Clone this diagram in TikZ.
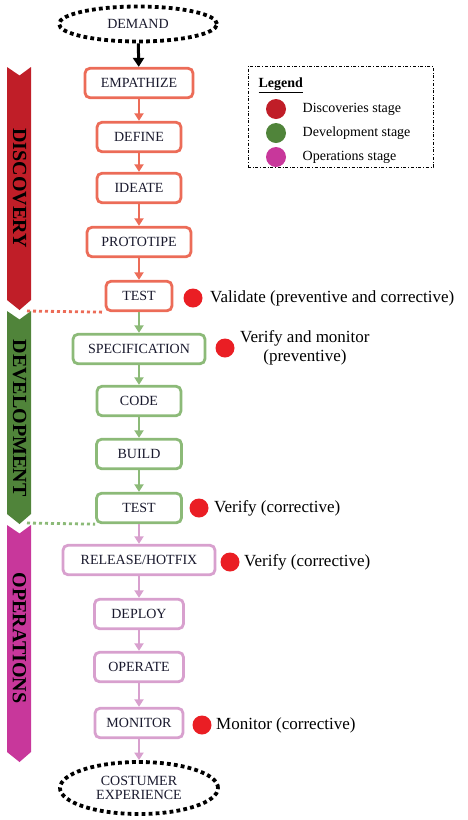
\documentclass[tikz,border=0pt]{standalone}
\usepackage{fontspec}
\setmainfont{Liberation Serif}
\usetikzlibrary{shapes.geometric, arrows.meta, positioning}
\definecolor{discline}{RGB}{236,108,88}
\definecolor{devline}{RGB}{140,186,120}
\definecolor{opsline}{RGB}{216,160,206}
\definecolor{discbar}{RGB}{192,30,40}
\definecolor{devbar}{RGB}{80,132,58}
\definecolor{opsbar}{RGB}{200,55,155}
\definecolor{dotred}{RGB}{234,30,36}
\definecolor{boxtext}{RGB}{25,25,45}

\begin{document}
\begin{tikzpicture}[x=1pt, y=-1pt, font=\fontsize{14}{16}\selectfont,
    stagebox/.style={draw, rounded corners=5pt, line width=2.8pt, fill=white,
        minimum height=29.5pt, inner xsep=10pt, text=boxtext},
    discbox/.style={stagebox, draw=discline},
    devbox/.style={stagebox, draw=devline},
    opsbox/.style={stagebox, draw=opsline},
    endpoint/.style={ellipse, draw, line width=3.8pt, dash pattern=on 3.8pt off 3.2pt,
        minimum width=158pt, minimum height=35pt, inner sep=1pt, align=center, text=boxtext},
    flow/.style={line width=2.3pt, -{Triangle[width=9pt,length=7.5pt]}},
    linkdots/.style={line width=2.8pt, dash pattern=on 3pt off 3pt},
    notedot/.style={circle, fill=dotred, minimum size=19pt, inner sep=0pt},
    note/.style={font=\fontsize{17}{19}\selectfont, align=center},
    legdot/.style={circle, minimum size=20pt, inner sep=0pt},
    bartext/.style={rotate=-90, font=\fontsize{20}{20}\selectfont\bfseries, text=black}]

    \useasboundingbox (0,0) rectangle (468,820);

    % stage bars on the left
    \foreach \col/\top/\bot/\mid/\nm/\txt in {discbar/67/300/188/disc/DISCOVERY,
            devbar/311/514/418/dev/DEVELOPMENT, opsbar/525/752/638/ops/OPERATIONS} {
        \fill[\col] (7,\top) -- (19.5,\top+8.5) -- (31,\top) -- (31,\bot)
            -- (19.5,\bot+10) -- (7,\bot) -- cycle;
        \node[bartext] (\nm label) at (19.5,\mid) {\txt};
    }
    \coordinate (discend) at (27,311);
    \coordinate (devend) at (27,523);

    % flow
    \node[endpoint] (demand) at (138,24) {DEMAND};
    \node[discbox, minimum width=108pt] (empathize) at (139,83) {EMPATHIZE};
    \node[discbox, minimum width=84pt] (define) at (139,137) {DEFINE};
    \node[discbox, minimum width=84pt] (ideate) at (139,188) {IDEATE};
    \node[discbox, minimum width=104pt] (prototipe) at (139,242) {PROTOTIPE};
    \node[discbox, minimum width=66pt] (testdisc) at (139,296) {TEST};
    \node[devbox, minimum width=132pt] (specification) at (139,349) {SPECIFICATION};
    \node[devbox, minimum width=84pt] (code) at (139,401) {CODE};
    \node[devbox, minimum width=85pt] (build) at (139,454) {BUILD};
    \node[devbox, minimum width=85pt] (testdev) at (139,508) {TEST};
    \node[opsbox, minimum width=152pt] (release) at (139,560) {RELEASE/HOTFIX};
    \node[opsbox, minimum width=89pt] (deploy) at (139,614) {DEPLOY};
    \node[opsbox, minimum width=89pt] (operate) at (139,667) {OPERATE};
    \node[opsbox, minimum width=88pt] (monitor) at (139,723) {MONITOR};
    \node[endpoint, minimum height=52pt] (experience) at (139,788) {COSTUMER\\[-2pt]EXPERIENCE};

    \draw[line width=3pt, -{Triangle[width=11pt,length=9pt]}] (demand) -- (empathize);
    \draw[flow, discline] (empathize) -- (define);
    \draw[flow, discline] (define) -- (ideate);
    \draw[flow, discline] (ideate) -- (prototipe);
    \draw[flow, discline] (prototipe) -- (testdisc);
    \draw[flow, devline] (testdisc) -- (specification);
    \draw[flow, devline] (specification) -- (code);
    \draw[flow, devline] (code) -- (build);
    \draw[flow, devline] (build) -- (testdev);
    \draw[flow, opsline] (testdev) -- (release);
    \draw[flow, opsline] (release) -- (deploy);
    \draw[flow, opsline] (deploy) -- (operate);
    \draw[flow, opsline] (operate) -- (monitor);
    \draw[flow, opsline] (monitor) -- (experience);

    % stage boundaries
    \draw[linkdots, discline] (discend) -- (testdisc.south west);
    \draw[linkdots, devline] (devend) -- (testdev.south west);

    % quality notes
    \node[notedot] (validdot) at (193,298) {};
    \node[note, right=4pt of validdot] (valid) {Validate (preventive and corrective)};
    \node[notedot] (specdot) at (225,348) {};
    \node[note, right=2pt of specdot] (specnote) {Verify and monitor\\(preventive)};
    \node[notedot] (testdot) at (199,508) {};
    \node[note, right=2pt of testdot] (testnote) {Verify (corrective)};
    \node[notedot] (releasedot) at (230,562) {};
    \node[note, right=1pt of releasedot] (releasenote) {Verify (corrective)};
    \node[notedot] (monitordot) at (202,725) {};
    \node[note, right=1pt of monitordot] (monitornote) {Monitor (corrective)};

    % legend
    \node[draw, dash dot, line width=0.8pt, minimum width=185pt, minimum height=101pt] (legend) at (340.5,116.5) {};
    \node[anchor=west, font=\fontsize{14}{16}\selectfont\bfseries] (legtitle) at (255,85) {\underline{Legend}};
    \foreach \col/\txt/\yy in {discbar/Discoveries stage/109, devbar/Development stage/133, opsbar/Operations stage/157} {
        \node[legdot, fill=\col] (leg\yy) at (276,\yy) {};
        \node[right=13pt of leg\yy] {\txt};
    }
\end{tikzpicture}
\end{document}
